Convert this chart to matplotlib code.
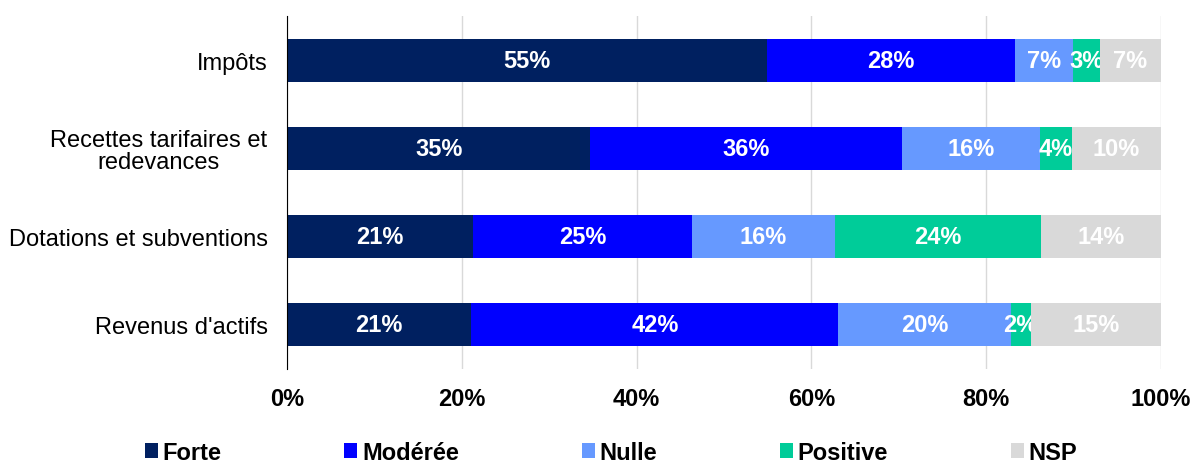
import matplotlib
matplotlib.use('Agg')
import matplotlib.pyplot as plt
from matplotlib.patches import Patch
from matplotlib.ticker import PercentFormatter

plt.rcParams['font.family'] = ['Liberation Sans', 'DejaVu Sans']

categories = ["Impôts", "Recettes tarifaires et\nredevances", "Dotations et subventions", "Revenus d'actifs"]
series_names = ["Forte", "Modérée", "Nulle", "Positive", "NSP"]
colors = ["#002060", "#0000FF", "#6699FF", "#00CC99", "#D9D9D9"]

forte = [54.9, 34.7, 21.3, 21.1]
moderee = [28.4, 35.7, 25.0, 42.0]
nulle = [6.6, 15.7, 16.4, 19.7]
positive = [3.1, 3.7, 23.6, 2.3]
nsp = [7.0, 10.2, 13.7, 14.9]

series = [forte, moderee, nulle, positive, nsp]

fig = plt.figure(figsize=(11.93, 4.64), dpi=100)
ax = fig.add_axes([287 / 1193, 94 / 464, 874 / 1193, 353 / 464])

y = list(range(len(categories)))
left = [0.0] * len(categories)
for name, values, color in zip(series_names, series, colors):
    bars = ax.barh(y, values, left=left, height=0.49, color=color, label=name, zorder=3)
    ax.bar_label(bars, labels=[f"{v:.0f}%" for v in values], label_type='center',
                 color='white', fontsize=17, fontweight='bold')
    left = [l + v for l, v in zip(left, values)]

ax.set_xlim(0, 100)
ax.set_ylim(len(categories) - 0.5, -0.5)
ax.set_yticks(y)
ax.set_yticklabels(categories, fontsize=17, linespacing=1.0, multialignment='center')
ax.set_xticks([0, 20, 40, 60, 80, 100])
ax.xaxis.set_major_formatter(PercentFormatter(decimals=0))
for t in ax.get_xticklabels():
    t.set_fontweight('bold')
    t.set_fontsize(17)

ax.tick_params(axis='both', length=0)
ax.tick_params(axis='x', pad=13)
ax.tick_params(axis='y', pad=14)
ax.grid(axis='x', color='#D9D9D9', linewidth=1, zorder=0)
for side in ['top', 'right', 'bottom']:
    ax.spines[side].set_visible(False)
ax.spines['left'].set_color('black')
ax.spines['left'].set_zorder(4)

handles = [Patch(facecolor=c, edgecolor='none', label=n) for n, c in zip(series_names, colors)]
fig.legend(handles=handles, loc='center', bbox_to_anchor=(0.512, 0.022), ncol=5, frameon=False,
           prop={'size': 17, 'weight': 'bold'}, handlelength=0.55, handleheight=0.6,
           handletextpad=0.2, columnspacing=5.2)

fig.savefig('out.png', dpi=100)
plt.close(fig)
